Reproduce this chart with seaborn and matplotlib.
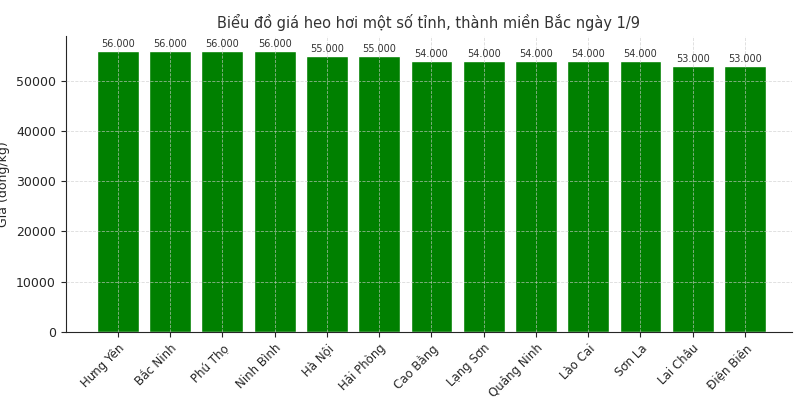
import matplotlib
matplotlib.use("Agg")
from matplotlib import pyplot as plt
import seaborn as sns
import pandas as pd

provinces = ['Hưng Yên', 'Bắc Ninh', 'Phú Thọ', 'Ninh Bình', 'Hà Nội', 'Hải Phòng',
             'Cao Bằng', 'Lạng Sơn', 'Quảng Ninh', 'Lào Cai', 'Sơn La', 'Lai Châu', 'Điện Biên']
prices = [56000, 56000, 56000, 56000, 55000, 55000, 54000, 54000, 54000, 54000, 54000, 53000, 53000]

df = pd.DataFrame({'tinh': provinces, 'gia': prices})

sns.set_style('white')
plt.rcParams['font.family'] = ['DejaVu Sans']

fig, ax = plt.subplots(figsize=(8, 4), dpi=100)
sns.barplot(data=df, x='tinh', y='gia', color='green', saturation=1, width=0.8, ax=ax, zorder=2)
ax.set_xlim(-1.0, len(provinces) - 0.1)
ax.set_ylim(0, 58900)
ax.grid(True, linestyle='--', linewidth=0.6, color='#cccccc', alpha=0.7, zorder=0)
ax.set_axisbelow(False)
for i, v in enumerate(prices):
    ax.text(i, v + 300, f"{v:,}".replace(',', '.'), ha='center', va='bottom', fontsize=7, color='#333333')
ax.set_title('Biểu đồ giá heo hơi một số tỉnh, thành miền Bắc ngày 1/9', fontsize=10.5, color='#333333')
ax.set_xlabel('')
ax.set_ylabel('Giá (đồng/kg)', fontsize=9, labelpad=4)
ax.tick_params(axis='y', labelsize=9, left=True)
ax.tick_params(axis='x', labelsize=8.5, bottom=True)
plt.setp(ax.get_xticklabels(), rotation=45, ha='right', rotation_mode='anchor')
sns.despine(ax=ax)
plt.subplots_adjust(left=0.082, right=0.99, top=0.91, bottom=0.17)
plt.savefig('out.png')
